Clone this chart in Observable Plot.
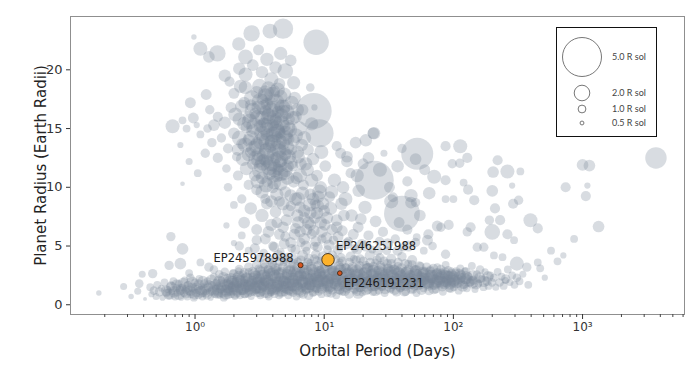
<!DOCTYPE html>
<html><head><meta charset="utf-8">
<script src="https://cdn.jsdelivr.net/npm/d3@7"></script>
<script src="https://cdn.jsdelivr.net/npm/@observablehq/plot@0.6"></script>
<style>
body{margin:0;background:#fff;}
#wrap{position:relative;width:699px;height:390px;overflow:hidden;}
#legend{position:absolute;left:556px;top:27px;width:101px;height:110px;box-sizing:border-box;border:1.5px solid #111;background:#fff;}
</style></head><body><div id="wrap"></div>
<script>
// [period (days), planet radius (Earth radii), stellar radius (R sol)]
const subNeptunes = [
[0.45,1.5,1],[0.46,0.9,.8],[0.48,1.2,1.1],[0.5,0.7,.9],[0.51,1.7,1],[0.53,1.1,1.2],[0.55,1.4,.9],[0.56,0.6,.8],[0.58,1.9,1],[0.6,1.0,1.1],[0.61,1.3,.9],[0.63,0.8,1],[0.65,1.6,1.2],[0.66,1.1,.8],[0.68,2.0,1],[0.7,0.7,1],[0.72,1.4,1.1],[0.73,1.0,.9],[0.75,1.8,1],[0.77,1.2,1.2],[0.78,0.6,.8],[0.8,1.5,1],
[0.82,1.0,1],[0.83,2.1,.9],[0.85,1.3,1.1],[0.87,0.7,1],[0.88,1.7,1],[0.9,1.1,.9],[0.92,2.3,1.1],[0.93,0.9,1],[0.95,1.5,1.2],[0.97,1.2,.8],[0.98,0.6,1],[1.0,1.9,1],[1.02,1.0,1.1],[1.04,1.4,.9],[1.06,0.8,1],[1.08,2.2,1],[1.1,1.2,1.2],[1.12,1.6,.9],[1.14,0.7,1],[1.16,1.0,1],[1.18,1.8,1.1],[1.2,1.3,1],[1.22,0.9,.9],[1.25,2.0,1],[1.27,1.5,1.2],[1.3,1.1,1],[1.32,0.6,.8],[1.35,1.7,1],[1.37,1.2,1.1],[1.4,2.4,1],[1.42,0.9,1],[1.45,1.4,.9],[1.47,1.9,1],[1.5,1.0,1.2],
[1.52,1.6,1],[1.54,2.6,1.1],[1.56,0.8,.9],[1.58,1.3,1],[1.6,2.1,1],[1.63,1.0,1.2],[1.65,1.8,.9],[1.67,0.6,1],[1.7,2.8,1.1],[1.72,1.4,1],[1.75,1.1,.9],[1.77,2.3,1],[1.8,0.8,1],[1.82,1.7,1.2],[1.85,1.2,1],[1.88,2.0,.9],[1.9,0.9,1],[1.93,1.5,1.1],[1.96,2.7,1],[1.98,1.1,1],[2.0,1.9,1.2],[2.03,0.7,.9],[2.06,1.4,1],[2.09,2.4,1],[2.12,1.0,1.1],[2.15,1.7,1],[2.18,2.9,.9],[2.2,1.3,1],[2.23,0.8,1],[2.26,2.1,1.2],[2.3,1.5,1],[2.33,1.1,.9],[2.36,2.6,1],[2.4,1.8,1.1],[2.43,0.9,1],[2.46,1.3,1],[2.5,2.2,.9],[2.53,1.6,1],[2.57,1.0,1.2],[2.6,2.8,1],[2.64,1.2,1],[2.68,1.9,1.1],[2.72,0.7,.9],[2.76,1.5,1],[2.8,2.4,1],[2.84,1.1,1.1],[2.88,1.7,1],[2.92,2.0,.9],[2.96,1.3,1],
[3.0,2.6,1],[3.03,1.0,1.1],[3.06,1.8,.9],[3.1,3.1,1],[3.13,1.3,1],[3.17,2.2,1.2],[3.2,0.8,1],[3.24,1.6,.9],[3.28,2.9,1],[3.31,1.1,1.1],[3.35,2.0,1],[3.39,1.4,1],[3.43,3.3,.9],[3.47,0.9,1],[3.51,1.9,1.2],[3.55,2.5,1],[3.59,1.2,1],[3.63,1.7,.9],[3.67,3.0,1.1],[3.72,0.7,1],[3.76,2.3,1],[3.8,1.5,1.2],[3.85,1.0,.9],[3.89,2.8,1],[3.94,1.9,1],[3.98,1.3,1.1],[4.03,3.4,1],[4.08,2.1,.9],[4.12,0.9,1],[4.17,1.6,1],[4.22,2.6,1.2],[4.27,1.2,1],[4.32,2.0,.9],[4.37,3.2,1],[4.42,1.5,1.1],[4.47,0.8,1],[4.53,2.4,1],[4.58,1.8,.9],[4.64,1.1,1.2],[4.69,2.9,1],[4.75,1.4,1],[4.8,2.2,1.1],[4.86,3.6,1],[4.92,1.0,.9],[4.98,1.7,1],[5.04,2.5,1],[5.1,1.3,1.2],[5.16,3.1,1],[5.22,2.0,.9],[5.28,0.8,1],[5.35,1.6,1.1],[5.41,2.7,1],[5.48,1.2,1],[5.54,2.2,.9],[5.61,3.4,1],[5.68,1.5,1.2],[5.75,1.0,1],[5.82,2.4,1],[5.89,1.9,1.1],[5.96,2.9,.9],[6.03,1.3,1],[6.1,0.7,1],[6.18,2.1,1.2],[6.25,3.7,1],[6.33,1.6,1],[6.4,2.6,.9],[6.48,1.1,1],[6.56,2.0,1.1],[6.64,3.0,1],[6.72,1.4,1],[6.8,2.3,.9],[6.88,0.9,1.2],[6.97,1.8,1],[7.05,3.3,1],[7.14,2.5,1.1],[7.22,1.2,1],[7.31,2.0,.9],[7.4,2.9,1],[7.49,1.6,1],[7.58,0.8,1.2],[7.67,2.3,1],[7.76,3.6,.9],[7.86,1.4,1],[7.95,2.1,1.1],[8.05,2.7,1],[8.15,1.0,1],[8.25,1.8,.9],[8.35,3.2,1.2],[8.45,2.4,1],[8.55,1.3,1],[8.65,2.0,1.1],[8.76,3.8,1],[8.86,1.6,.9],[8.97,2.6,1],[9.08,1.1,1],[9.19,2.2,1.2],[9.3,3.0,1],[9.41,1.8,.9],[9.53,0.9,1],[9.64,2.5,1.1],[9.76,1.5,1],[9.88,3.4,1],[10.0,2.1,1],
[3.05,2.2,1.2],[3.3,1.6,1.1],[3.6,2.6,1.2],[3.9,1.1,1.1],[4.25,2.9,1.2],[4.6,1.5,1.2],[5.0,2.0,1.2],[5.3,1.2,1.1],[5.7,2.7,1.2],[6.2,1.8,1.1],[6.7,2.5,1.2],[7.1,1.5,1.1],[7.7,1.9,1.2],[8.2,2.2,1.1],[8.8,1.4,1.2],[9.5,2.8,1.1],
[10.2,1.4,1],[10.4,2.7,.9],[10.6,1.0,1.1],[10.8,3.3,1],[11.0,1.9,1],[11.2,2.4,1.2],[11.5,1.2,1],[11.7,3.0,.9],[11.9,1.7,1],[12.2,2.2,1.1],[12.4,0.8,1],[12.7,2.8,1],[12.9,1.5,1.2],[13.2,3.6,1],[13.5,2.0,.9],[13.8,1.1,1],[14.1,2.5,1],[14.4,1.8,1.1],[14.7,3.2,1],[15.0,1.3,1],[15.3,2.3,.9],[15.6,0.9,1.2],[15.9,2.9,1],[16.3,1.6,1],[16.6,2.1,1.1],[17.0,3.9,1],[17.3,1.2,.9],[17.7,2.6,1],[18.1,1.9,1],[18.5,3.1,1.2],[18.9,1.4,1],[19.3,2.3,1],[19.7,1.0,.9],[20.1,2.8,1.1],[20.5,1.7,1],[21.0,3.4,1],[21.4,2.1,1],[21.9,1.3,1.2],[22.3,2.6,.9],[22.8,1.8,1],[23.3,3.0,1],[23.8,1.1,1.1],[24.3,2.2,1],[24.8,3.6,1],[25.4,1.6,.9],[25.9,2.5,1.2],[26.5,1.2,1],[27.0,2.0,1],[27.6,3.2,1.1],[28.2,1.5,1],[28.8,2.7,.9],[29.4,1.0,1],[30.0,2.3,1],[30.7,3.5,1.2],[31.3,1.8,1],[32.0,2.9,.9],[32.7,1.3,1],[33.4,2.1,1.1],[34.1,3.1,1],[34.8,1.6,1],[35.6,2.5,.9],[36.3,1.1,1.2],[37.1,3.3,1],[37.9,2.0,1],[38.7,1.4,1.1],[39.5,2.7,1],
[10.3,2.0,1.2],[10.9,1.3,1.1],[11.4,2.9,1.2],[12.0,2.5,1.1],[12.6,1.9,1.2],[13.3,1.2,1.1],[14.0,3.0,1.2],[14.8,2.1,1.1],[15.5,1.6,1.2],[16.4,2.7,1.1],[17.2,2.0,1.2],[18.0,1.1,1.1],[19.0,2.6,1.2],[20.0,2.0,1.1],[21.1,1.5,1.2],[22.1,3.2,1.1],[23.2,2.3,1.2],[24.5,1.5,1.1],[25.7,2.9,1.2],[27.2,2.3,1.1],[28.6,1.9,1.2],[30.3,2.8,1.1],[31.9,2.2,1.2],[33.8,1.7,1.1],[35.9,2.9,1.2],[38.2,2.3,1.1],
[40.5,1.6,1],[41.5,2.9,.9],[42.6,1.1,1.1],[43.6,2.3,1],[44.7,3.5,1],[45.8,1.7,1.2],[47.0,2.6,1],[48.1,1.3,.9],[49.3,3.1,1],[50.6,2.0,1.1],[51.8,1.0,1],[53.1,2.7,1],[54.5,1.8,1.2],[55.8,3.3,1],[57.2,2.2,.9],[58.6,1.4,1],[60.1,2.9,1.1],[61.6,1.9,1],[63.2,2.4,1],[64.8,1.2,1.2],[66.4,3.0,1],[68.0,2.0,.9],[69.7,1.6,1],[71.5,2.6,1.1],[73.3,1.3,1],[75.1,3.2,1],[77.0,2.1,1.2],[78.9,1.7,1],[80.9,2.8,.9],[82.9,1.1,1],[85.0,2.3,1.1],[87.1,3.4,1],[89.3,1.8,1],[91.5,2.5,1.2],[93.8,1.4,1],[96.2,2.9,.9],[98.6,2.0,1],
[42,2.0,1.2],[46,2.3,1.1],[50,1.6,1.2],[55,2.4,1.1],[60,2.1,1.2],[66,1.8,1.1],[72,2.2,1.2],[79,2.5,1.1],[86,1.9,1.2],[94,2.2,1.1],
[101,1.5,1],[104,2.7,1.1],[107,2.0,.9],[110,1.2,1],[113,3.1,1],[116,2.3,1.2],[120,1.7,1],[123,2.9,.9],[127,1.4,1],[131,2.4,1.1],[135,1.9,1],[139,3.3,1],[143,2.1,1.2],[147,1.3,.9],[152,2.6,1],[156,1.8,1],[161,3.0,1.1],[166,2.2,1],[171,1.5,1],[176,2.8,.9],[182,2.0,1.2],[187,1.6,1],[193,2.5,1],[199,1.9,1.1],
[206,2.3,1],[213,1.5,.9],[220,2.8,1],[228,1.9,1.1],[236,2.4,1],[245,1.6,1],[254,2.2,1.2],[264,3.0,1],[274,1.9,.9],[285,2.5,1],[297,1.7,1],[310,2.3,1.1],[325,2.0,1],[345,2.6,.9]
];
const bandCore = [
[0.6,1.2,1.4],[0.63,0.9,1.5],[0.66,1.5,1.4],[0.69,1.1,1.5],[0.72,1.7,1.4],[0.75,0.9,1.5],[0.78,1.3,1.4],[0.81,1.8,1.5],[0.85,1.0,1.4],[0.88,1.5,1.5],[0.92,1.2,1.4],[0.95,1.9,1.5],[0.99,0.9,1.4],[1.03,1.4,1.5],[1.07,1.7,1.4],[1.11,1.1,1.5],[1.15,2.0,1.4],[1.2,1.3,1.5],[1.24,0.9,1.4],[1.29,1.6,1.5],[1.34,2.1,1.4],[1.39,1.2,1.5],[1.44,1.7,1.4],[1.49,1.0,1.5],
[1.54,2.0,1.5],[1.6,1.4,1.4],[1.66,2.3,1.5],[1.72,0.9,1.4],[1.78,1.7,1.5],[1.84,1.2,1.4],[1.9,2.2,1.5],[1.97,1.5,1.4],[2.04,1.0,1.5],[2.11,1.9,1.4],[2.18,2.4,1.5],[2.26,1.3,1.4],[2.34,1.8,1.5],[2.42,1.0,1.4],[2.5,2.3,1.5],[2.59,1.6,1.4],[2.68,1.2,1.5],[2.77,2.0,1.4],[2.87,2.6,1.5],[2.97,1.4,1.4],
[3.07,1.9,1.5],[3.18,1.1,1.4],[3.29,2.5,1.5],[3.4,1.6,1.4],[3.52,2.1,1.5],[3.64,1.0,1.4],[3.77,2.8,1.5],[3.9,1.8,1.4],[4.04,1.3,1.5],[4.18,2.3,1.4],[4.32,1.6,1.5],[4.47,2.7,1.4],[4.63,1.1,1.5],[4.79,2.0,1.4],[4.96,1.5,1.5],[5.13,2.6,1.4],[5.31,1.9,1.5],[5.5,1.2,1.4],[5.69,2.2,1.5],[5.89,2.9,1.4],[6.1,1.6,1.5],[6.31,2.4,1.4],[6.53,1.1,1.5],[6.76,1.9,1.4],[7.0,2.7,1.5],[7.24,1.4,1.4],[7.5,2.2,1.5],[7.76,1.7,1.4],[8.03,3.0,1.5],[8.31,1.2,1.4],[8.6,2.4,1.5],[8.9,1.9,1.4],[9.21,2.8,1.5],[9.54,1.4,1.4],[9.87,2.1,1.5],
[10.2,2.6,1.4],[10.6,1.6,1.5],[10.9,2.2,1.4],[11.3,1.1,1.5],[11.7,2.9,1.4],[12.1,1.8,1.5],[12.5,2.4,1.4],[13.0,1.4,1.5],[13.4,3.1,1.4],[13.9,2.0,1.5],[14.4,1.2,1.4],[14.9,2.6,1.5],[15.4,1.7,1.4],[15.9,2.3,1.5],[16.5,3.0,1.4],[17.1,1.5,1.5],[17.7,2.1,1.4],[18.3,1.0,1.5],[18.9,2.7,1.4],[19.6,1.9,1.5],[20.3,2.4,1.4],[21.0,1.3,1.5],[21.7,3.1,1.4],[22.5,2.0,1.5],[23.3,1.6,1.4],[24.1,2.6,1.5],[24.9,1.2,1.4],[25.8,2.2,1.5],[26.7,2.9,1.4],[27.6,1.7,1.5],[28.6,2.4,1.4],[29.6,1.4,1.5],[30.6,2.0,1.4],[31.7,3.0,1.5],[32.8,1.8,1.4],[33.9,2.5,1.5],[35.1,1.3,1.4],[36.3,2.2,1.5],[37.6,2.8,1.4],[38.9,1.6,1.5],[40.3,2.3,1.4],[41.7,1.2,1.5],[43.1,2.8,1.4],[44.6,1.9,1.5],[46.2,2.5,1.4],[47.8,1.4,1.5],[49.5,2.1,1.4],[51.2,2.9,1.5],[53.0,1.7,1.4],[54.8,2.4,1.5],[56.7,1.3,1.4],[58.7,2.2,1.5],
[60.8,2.7,1.4],[64,1.7,1.5],[67,2.3,1.4],[70.5,1.4,1.5],[74,2.6,1.4],[78,2.0,1.5],[82,1.6,1.4],[86,2.7,1.5],[90.5,2.1,1.4],[95,1.5,1.5],[100,2.4,1.4],[106,1.9,1.5],[112,2.6,1.4],[118,1.6,1.5],[125,2.2,1.4],[133,2.0,1.5],[141,2.5,1.4],[150,1.8,1.5],[160,2.3,1.4],[172,2.0,1.5],[185,2.4,1.4],
[1.8,1.5,1.6],[1.95,1.9,1.7],[2.1,1.3,1.6],[2.3,2.1,1.7],[2.5,1.6,1.6],[2.7,1.9,1.7],[2.9,1.4,1.6],[3.12,2.2,1.7],[3.35,1.7,1.6],[3.6,2.0,1.7],[3.85,1.4,1.6],[4.12,2.4,1.7],[4.4,1.9,1.6],[4.7,1.5,1.7],[5.03,2.3,1.6],[5.38,1.7,1.7],[5.75,2.0,1.6],[6.15,1.4,1.7],[6.57,2.5,1.6],[7.02,1.8,1.7],[7.5,1.5,1.6],[8.0,2.2,1.7],[8.55,1.6,1.6],[9.15,2.5,1.7],[9.8,1.8,1.6],[10.5,2.0,1.7],[11.2,1.6,1.6],[12.0,2.3,1.7],[12.8,1.7,1.6],[13.7,2.4,1.7],[14.6,1.6,1.6],[15.6,2.1,1.7],[16.7,1.8,1.6],[17.8,2.5,1.7],[19.0,1.6,1.6],[20.3,2.2,1.7],[21.7,1.9,1.6],[23.2,2.5,1.7],[24.8,1.7,1.6],[26.5,2.3,1.7],[28.3,1.8,1.6],[30.2,2.5,1.7],[32.3,1.6,1.6],[34.5,2.2,1.7],[36.9,1.9,1.6],[39.4,2.4,1.7],[42.1,1.7,1.6],[45,2.2,1.7],[48.1,1.9,1.6],[51.4,2.5,1.7],[55,1.8,1.6],[58.8,2.2,1.7],[62.8,1.9,1.6],[67.1,2.4,1.7],[71.7,1.8,1.6],[76.6,2.2,1.7],[81.9,1.9,1.6],[87.5,2.4,1.7],[93.5,1.8,1.6],[100,2.1,1.7],[110,2.0,1.6],[125,2.3,1.7],[140,1.9,1.6],
[1.5,1.3,1.6],[1.62,1.7,1.7],[1.75,1.2,1.6],[1.88,1.9,1.8],[2.02,1.5,1.7],[2.18,2.0,1.8],[2.35,1.4,1.7],[2.52,2.1,1.8],[2.72,1.6,1.7],[2.92,2.3,1.8],[3.15,1.5,1.7],[3.4,2.4,1.8],[3.65,1.8,1.7],[3.95,2.6,1.8],[4.25,1.6,1.7],[4.6,2.5,1.8],[4.95,1.9,1.7],[5.35,2.7,1.8],[5.75,1.7,1.7],[6.2,2.6,1.8],[6.7,2.0,1.7],[7.2,2.8,1.8],[7.8,1.8,1.7],[8.4,2.6,1.8],[9.05,2.0,1.7],[9.75,2.8,1.8],[10.5,1.9,1.7],[11.3,2.6,1.8],[12.2,2.1,1.7],[13.2,2.8,1.8],[14.2,1.9,1.7],[15.3,2.6,1.8],[16.5,2.1,1.7],[17.8,2.8,1.8],[19.2,1.9,1.7],[20.7,2.6,1.8],[22.3,2.1,1.7],[24.0,2.8,1.8],[25.9,1.9,1.7],[27.9,2.6,1.8],[30.1,2.1,1.7],[32.4,2.7,1.8],[34.9,1.9,1.7],[37.6,2.6,1.8],[40.5,2.0,1.7],[43.7,2.6,1.8],[47.1,1.9,1.7],[50.7,2.5,1.8],[54.7,2.0,1.7],[58.9,2.5,1.8],[63.5,1.9,1.7],[68.4,2.4,1.8],[73.7,2.0,1.7],[79.5,2.4,1.8],[85.7,1.9,1.7],[92.3,2.3,1.8],[99.5,2.0,1.7],[110,2.3,1.6],[120,1.9,1.7]
];
const bandUpper = [
[2.0,2.6,1.3],[2.2,3.0,1.2],[2.4,2.7,1.3],[2.6,3.2,1.2],[2.8,2.8,1.3],[3.0,3.4,1.2],[3.2,2.9,1.3],[3.45,3.5,1.2],[3.7,3.0,1.3],[3.95,3.6,1.2],[4.2,3.1,1.3],[4.5,3.7,1.2],[4.8,3.2,1.3],[5.1,3.8,1.2],[5.45,3.0,1.3],[5.8,3.5,1.2],[6.2,3.2,1.3],[6.6,3.8,1.2],[7.0,3.0,1.3],[7.45,3.6,1.2],[7.9,3.2,1.3],[8.4,3.9,1.2],[8.95,3.3,1.3],[9.5,3.7,1.2],[10.1,3.1,1.3],[10.8,3.6,1.2],[11.5,3.2,1.3],[12.2,3.9,1.2],[13.0,3.3,1.3],[13.8,3.7,1.2],[14.7,3.1,1.3],[15.6,3.6,1.2],[16.6,3.2,1.3],[17.7,3.8,1.2],[18.8,3.3,1.3],[20.0,3.7,1.2],[21.3,3.1,1.3],[22.7,3.6,1.2],[24.1,3.2,1.3],[25.7,3.8,1.2],[27.3,3.3,1.3],[29,3.7,1.2],[31,3.1,1.3],[33,3.5,1.2],[35,3.0,1.3],[37.3,3.6,1.2],[39.7,3.1,1.3],[42.3,3.5,1.2],[45,3.0,1.3],[48,3.4,1.2],[51,2.9,1.3],[54.5,3.3,1.2],[58,2.8,1.3],[62,3.2,1.2],[66,2.8,1.3],[70,3.1,1.2],[75,2.7,1.3],[80,3.0,1.2],[85,2.6,1.3],[91,2.9,1.2],[97,2.6,1.3],[105,2.8,1.2],[115,2.5,1.3],[125,2.8,1.2]
];
const warmPlanets = [
[2.2,5.0,1.2],[2.6,4.6,1],[3.0,5.5,1.3],[3.4,4.4,1.1],[3.7,6.2,1.5],[4.0,5.0,1.2],[4.3,7.0,1.4],[4.6,4.5,1],[5.0,5.8,1.3],[5.3,8.0,1.6],[5.6,4.8,1.1],[6.0,6.5,1.4],[6.3,9.0,1.8],[6.6,5.3,1.2],[7.0,7.4,1.5],[7.3,4.6,1],[7.7,8.5,1.7],[8.0,6.0,1.3],[8.4,5.0,1.1],[8.8,7.8,1.6],[9.2,9.6,1.9],[9.6,5.6,1.2],[10.1,6.8,1.5],[10.6,4.7,1.1],[11.2,8.2,1.7],[11.8,5.5,1.2],[12.5,7.2,1.5],[13.1,4.9,1],[13.8,6.3,1.4],[14.6,9.0,1.8],[15.4,5.4,1.2],[16.3,7.6,1.6],[17.2,4.8,1.1],[18.3,6.6,1.4],[19.5,5.2,1.2],[20.7,8.3,1.7],[22,5.9,1.3],[23.5,4.7,1],[25,7.1,1.5],[26.8,5.4,1.2],[28.5,6.2,1.3],[30.5,4.6,1.1],[33,8.8,1.8],[35.5,5.6,1.2],[38,7.0,1.4],[41,4.9,1.1],[44,6.4,1.3],[47,9.3,1.7],[51,5.3,1.2],[55,7.6,1.5],[59,4.6,1],[64,6.0,1.3],[69,5.0,1.1],[75,6.7,1.4],[87,4.3,1.2],
[3.2,4.0,1.3],[3.8,3.8,1.2],[4.4,4.2,1.4],[5.2,4.0,1.3],[5.8,3.9,1.2],[6.8,4.2,1.4],[7.6,3.9,1.3],[8.6,4.3,1.2],[9.8,4.1,1.4],[11.5,4.2,1.3],[13.5,4.0,1.2],[16,4.1,1.3],[19,3.9,1.2],[22.5,4.2,1.3],[27,4.0,1.2],[33,3.9,1.3],[40,4.1,1.2],[48,3.8,1.3],
[4.8,6.6,1.5],[5.5,5.3,1.4],[6.2,7.6,1.6],[7.0,5.6,1.5],[7.8,6.8,1.5],[8.6,5.4,1.4],[9.4,7.0,1.6],[10.4,5.7,1.5],[11.5,6.4,1.4],[6.5,8.3,1.5],[8.2,9.0,1.6],[10.0,8.0,1.5],[12.8,5.8,1.4],[14.2,7.6,1.5],[16.8,6.0,1.4],[19.2,7.3,1.5],
[2.4,7.0,1.5],[2.7,8.2,1.6],[3.0,6.4,1.4],[3.3,7.6,1.7],[3.6,8.6,1.5],[3.9,6.8,1.6],[4.2,7.9,1.5],[4.5,6.0,1.4],[4.8,8.6,1.7],[5.1,7.2,1.5],[5.5,9.3,1.6],[5.9,6.0,1.5],[6.3,7.0,1.6],[6.8,9.5,1.7],[7.3,6.4,1.5],[7.8,7.8,1.6],[8.3,6.3,1.5],[8.9,8.4,1.7],[9.6,6.2,1.5],[10.5,7.4,1.6],[11.4,9.6,1.7],[12.5,6.6,1.5],[13.6,8.6,1.6],[2.9,4.8,1.3],[3.5,5.6,1.4],[4.1,4.9,1.3],[4.9,5.2,1.4],[6.0,4.7,1.3],[7.2,5.0,1.4],[8.9,4.9,1.3],[10.9,5.1,1.4],[12.8,4.7,1.3],[15,5.2,1.4],[18,4.7,1.3],[21,5.0,1.4],[26,4.6,1.3],[31,5.2,1.4],[37,4.6,1.3],[45,5.0,1.4],
[6.0,9.0,1.7],[7.0,8.0,1.6],[8.0,10.6,1.7],[9.0,9.2,1.6],[7.5,7.0,1.6],[8.5,7.4,1.5],[9.8,8.6,1.6],[6.5,6.2,1.5],
[0.18,1.0,0.7],[0.28,1.55,0.9],[0.32,0.7,0.7],[0.37,1.8,1.1],[0.36,1.15,0.9],[0.39,2.6,0.9],[0.47,2.65,1.2],[0.41,0.5,0.5],[0.65,5.8,1.2],[0.8,4.75,1.5],[0.77,3.5,1.5],[0.63,3.35,1.2],[1.75,6.75,0.8],[2.3,5.9,1.0],[2.0,5.25,0.8],[1.28,3.2,1.2],[1.4,3.0,1.1],[0.9,2.7,1.0],[1.1,3.6,1.0]
];
const hotJupiters = [
[3.0,18.1,1.6],[3.5,17.8,1.9],[4.1,18.2,1.5],[4.6,17.7,1.8],[3.3,17.5,1.4],
[2.7,17.0,1.5],[3.1,16.8,1.8],[3.6,17.1,1.6],[4.0,16.7,2.0],[4.5,17.0,1.5],[5.0,16.9,1.7],[3.8,17.4,1.3],
[2.6,16.0,1.6],[2.9,16.3,1.4],[3.3,15.9,1.9],[3.7,16.2,1.7],[4.2,15.8,1.5],[4.7,16.1,1.8],[5.3,15.8,1.6],[3.5,16.5,1.5],[4.4,16.4,1.6],
[2.5,15.1,1.5],[2.8,14.8,1.7],[3.2,15.2,1.6],[3.6,14.9,2.0],[4.0,15.3,1.5],[4.4,14.8,1.8],[4.9,15.2,1.6],[5.4,14.9,1.9],[3.4,15.5,1.4],[4.2,15.6,1.7],
[2.6,14.0,1.6],[3.0,13.8,1.5],[3.4,14.2,1.9],[3.9,13.9,1.7],[4.3,14.3,1.5],[4.8,13.8,1.8],[5.3,14.1,1.5],[3.6,14.5,1.6],[4.6,14.6,1.4],
[2.7,13.0,1.5],[3.1,12.8,1.8],[3.5,13.2,1.6],[4.0,12.9,1.5],[4.5,13.1,1.9],[5.0,12.8,1.6],[5.6,13.2,1.4],[3.8,13.5,1.7],[4.2,12.5,1.5],
[2.8,12.0,1.5],[3.2,11.8,1.7],[3.6,12.2,1.6],[4.1,11.9,1.8],[4.6,12.2,1.5],[5.2,11.8,1.6],[3.4,12.4,1.4],[4.4,11.5,1.5],
[2.9,11.0,1.5],[3.3,10.8,1.6],[3.8,11.2,1.7],[4.3,10.9,1.5],[4.9,11.1,1.6],[3.6,10.5,1.4],
[2.8,16.5,2.1],[3.2,17.3,2.2],[3.7,16.0,2.0],[4.2,17.2,2.3],[4.8,16.3,2.1],[2.9,15.2,2.2],[3.3,14.6,2.0],[3.8,15.4,2.3],[4.3,14.7,2.1],[4.9,14.2,2.2],[3.0,13.5,2.0],[3.5,12.6,2.3],[4.0,13.8,2.1],[4.5,12.4,2.2],[5.1,13.4,2.0],[3.2,11.4,2.1],[3.9,12.1,2.2],[4.6,11.2,2.0],[3.4,16.8,1.9],[4.1,15.9,2.0],[3.6,13.9,2.2],[4.4,13.3,2.1],[3.1,12.3,1.9],[5.2,15.1,2.0],[2.7,14.2,1.9],[3.7,18.4,1.9],[4.9,17.9,1.8],[2.6,12.8,1.8],[5.5,12.1,1.8],[4.1,10.4,1.8],
[2.75,17.6,2.0],[3.15,18.6,1.9],[3.55,18.0,2.1],[3.95,17.9,2.0],[4.35,18.3,1.9],[4.75,16.8,2.0],[5.15,16.4,1.9],[2.65,15.6,2.0],[3.05,15.9,2.1],[3.45,15.2,2.2],[3.85,16.6,2.0],[4.25,15.0,2.1],[4.65,15.5,2.0],[5.05,14.6,1.9],[2.85,13.3,2.0],[3.25,13.9,2.1],[3.65,13.1,2.2],[4.05,14.5,2.0],[4.45,13.9,2.1],[4.85,12.9,2.0],[5.3,12.6,1.9],[2.95,12.5,1.9],[3.35,12.1,2.0],[3.75,11.7,2.1],[4.15,11.5,2.0],[4.55,11.9,1.9],[5.0,11.5,1.9],[3.05,10.5,1.8],[3.55,10.2,1.9],[4.05,11.0,1.8],[4.6,10.3,1.8],[5.2,10.8,1.8],[3.3,9.6,1.7],[4.3,9.4,1.7],[3.9,8.8,1.6],
[2.05,16.2,1.8],[2.2,14.2,1.9],[2.3,16.9,1.7],[2.35,12.4,1.8],[2.45,13.6,1.9],[2.5,11.6,1.7],[2.15,13.2,1.6],[2.4,15.4,1.8],[2.25,18.6,1.7],
[5.7,15.9,1.8],[6.0,14.4,1.9],[6.3,12.6,1.7],[5.9,17.6,1.6],[6.5,11.0,1.8],[6.2,16.6,1.7],[5.8,10.5,1.6],[7.2,12.0,1.7],[6.7,13.6,1.6],
[1.3,16.6,1.2],[1.4,15.3,1.5],[1.5,16.0,1.3],[1.6,14.2,1.2],[1.7,15.5,1.6],[1.8,13.3,1.3],[1.9,16.8,1.4],[2.0,14.6,1.5],[2.1,12.6,1.2],[2.2,15.8,1.7],[2.3,13.7,1.4],[2.4,17.2,1.5],[1.5,12.5,1.3],[1.75,11.6,1.1],[2.15,11.0,1.3],[1.35,13.8,1.2],[1.25,15.0,1.1],[2.45,18.5,1.7],[2.0,18.0,1.4],[1.85,19.0,1.3],
[1.7,19.5,1.6],[2.46,19.6,1.8],[3.3,19.8,1.6],[3.6,20.9,1.7],[5.0,19.9,2.0],[7.8,18.5,1.1],[1.49,21.4,2.1],[1.28,21.1,1.5],[1.1,21.8,1.8],[0.98,22.8,0.7],[2.18,22.2,1.7],[2.74,23.1,2.1],[3.8,23.3,1.9],[4.8,23.5,2.6],[4.6,21.4,1.7],[2.46,21.1,1.9],[2.8,20.4,1.5],[3.1,21.7,1.4],[4.2,20.2,1.6],[5.5,20.8,1.5],[2.2,20.1,1.6],[3.9,19.2,1.8],[4.5,18.8,1.5],[5.8,18.9,1.7],
[1.22,17.9,1.4],[0.92,17.2,1.4],[0.97,15.9,1.4],[0.67,15.2,1.8],[0.8,15.7,1.0],[0.86,15.0,1.0],[1.03,15.3,0.8],[0.77,13.6,0.8],[1.1,14.5,1.0],[1.2,12.9,1.2],[0.9,12.2,0.9],[1.05,11.2,1.0],[0.8,10.3,0.6],
[5.6,17.2,1.8],[6.0,16.0,1.6],[6.4,15.0,1.9],[6.8,16.6,1.5],[5.8,14.0,1.6],[6.2,13.0,1.7],[6.6,12.0,1.5],[7.0,14.2,1.8],[7.5,13.2,1.5],[8.0,15.4,1.7],[5.7,11.8,1.4],[6.1,10.8,1.6],[6.9,10.2,1.4],[7.4,11.5,1.7],[8.2,12.4,1.6],[8.8,11.0,1.5],[9.5,13.0,1.8],[7.8,9.4,1.5],[8.5,8.6,1.4],[9.4,10.0,1.6],[10.2,11.8,1.5],[11,9.2,1.4],[12,10.6,1.7],[13.4,12.9,1.4],[15,12.6,1.5],[14,10.0,1.6],[16,11.2,1.3],[17.5,13.8,1.5],[21,14.0,1.6],[24,14.6,1.5],[18.5,9.7,1.6],[20,12.0,1.4],
[3.0,9.8,1.4],[3.5,9.0,1.3],[4.0,10.0,1.5],[4.5,8.8,1.4],[5.0,9.6,1.5],[2.6,10.2,1.3],[2.3,9.0,1.2],[5.5,8.4,1.3],[1.8,10.0,1.1],[2.0,8.5,1.0],
[8.3,16.5,4.6],[9.2,14.6,3.6],[8.66,22.35,3.25],[8.4,16.8,0.8]
];
const warmGiants = [
[29,12.9,0.9],[40,13.3,1.2],[87,13.5,1.3],[113,13.5,1.8],[220,12.3,1.3],[128,12.5,1.3],[98,12.0,1.2],[112,12.05,1.2],[71,10.9,1.8],[87,10.6,1.3],[120,10.4,1.0],[203,11.3,1.5],[262,11.35,1.8],[330,11.35,1.0],[285,10.15,0.8],[200,9.7,1.5],[145,8.9,1.3],[130,9.8,1.3],[87,9.0,1.0],[100,9.0,1.0],[47,8.7,1.5],[51,8.7,1.2],[34,9.15,1.3],[136,6.6,1.3],[128,6.2,1.2],[200,6.2,2.0],[262,6.0,1.3],[295,5.5,1.0],[395,7.2,1.8],[450,6.5,1.3],[310,3.5,1.8],[370,3.2,1.2],[80,6.6,1.2],[92,6.8,1.3],[63,5.5,1.4],[52,5.75,1.0],[153,4.9,1.2],[172,4.9,1.2],[206,4.2,1.0],[240,4.05,1.0],[253,2.07,0.9],[210,8.2,1.3],[290,8.6,1.3],[320,8.9,1.2],[230,7.2,1.3],[190,7.2,1.2],
[15,12.2,1.5],[18,11.0,1.7],[22,12.5,1.5],[27,11.5,1.8],[32,10.0,1.4],[37,11.8,1.6],[44,10.5,1.3],[60,11.5,1.4],[65,9.5,1.6],[12.5,13.5,1.3],[24.3,14.6,1.6],
[24.4,10.6,5.0],[40,7.75,4.6],[52.5,12.85,4.1],[51,12.4,1.5]
];
const longPeriod = [
[1000,11.9,1.5],[1130,11.85,1.5],[740,10.0,1.3],[1090,10.15,0.8],[1060,9.25,1.3],[1330,6.66,1.5],[860,5.6,1.0],[570,4.6,1.0],[710,4.2,0.8],[640,3.7,1.0],[450,3.6,1.0],[470,3.1,1.0],[510,2.3,0.8],[380,1.7,1.0],[3700,12.5,2.75]
];
const targetNames = ["EP246251988","EP245978988","EP246191231"];
const targetPeriod = [10.7, 6.56, 13.2];
const targetRadius = [3.83, 3.37, 2.69];
const targetStar = [1.6, 0.65, 0.6];
const legendSizes = [5.0, 2.0, 1.0, 0.5];
const legendLabels = ["5.0 R sol","2.0 R sol","1.0 R sol","0.5 R sol"];
const xMajor = [1, 10, 100, 1000];
const xMajorLabels = ["10\u2070","10\u00b9","10\u00b2","10\u00b3"];
const yTicks = [0, 5, 10, 15, 20];

const planets = [...subNeptunes, ...bandCore, ...bandUpper, ...warmPlanets, ...hotJupiters, ...warmGiants, ...longPeriod];
const targets = targetNames.map((n, i) => ({name: n, p: targetPeriod[i], r: targetRadius[i], s: targetStar[i]}));
const xMinor = [];
for (const dec of [0.1, 1, 10, 100, 1000]) for (let k = 2; k <= 9; k++) { const v = dec * k; if (v > 0.11 && v < 6100) xMinor.push(v); }
const targetFill = ["#fdb22b", "#d9541e", "#d9541e"];
const font = "DejaVu Sans, sans-serif";

const chart = Plot.plot({
  width: 699, height: 390,
  marginLeft: 70, marginRight: 15, marginTop: 16, marginBottom: 76,
  x: {type: "log", domain: [0.1086, 6155]},
  y: {domain: [-0.83, 24.54]},
  r: {type: "linear", domain: [0, 5], range: [0, 19.5]},
  style: {fontFamily: font, fontSize: "12px", color: "#333", background: "#fff"},
  marks: [
    Plot.dot(planets, {x: d => d[0], y: d => d[1], r: d => d[2], fill: "#778899", fillOpacity: 0.29, stroke: "none"}),
    Plot.dot(targets, {x: "p", y: "r", r: "s", fill: (d, i) => targetFill[i], stroke: "#3a2a1a", strokeWidth: 0.9}),
    Plot.text([targets[0]], {x: "p", y: "r", text: "name", dx: 8, dy: -13, textAnchor: "start", fontSize: 11.5, fill: "#222"}),
    Plot.text([targets[1]], {x: "p", y: "r", text: "name", dx: -7, dy: -7, textAnchor: "end", fontSize: 11.5, fill: "#222"}),
    Plot.text([targets[2]], {x: "p", y: "r", text: "name", dx: 4, dy: 10, textAnchor: "start", fontSize: 11.5, fill: "#222"}),
    Plot.frame({stroke: "#8f8f8f", strokeWidth: 1}),
    Plot.axisX(xMinor, {tickSize: 3, tickFormat: () => "", stroke: "#444", label: null}),
    Plot.axisX(xMajor, {tickSize: 5, tickPadding: 3, tickFormat: (d) => xMajorLabels[xMajor.indexOf(d)], stroke: "#333", fontSize: 12, label: null}),
    Plot.axisY(yTicks, {tickSize: 4, tickPadding: 4, fontSize: 13, stroke: "#333", label: null}),
    Plot.text(["Orbital Period (Days)"], {frameAnchor: "bottom", dy: 41, fontSize: 15, fill: "#222"}),
    Plot.text(["Planet Radius (Earth Radii)"], {frameAnchor: "left", dx: -29, rotate: -90, textAnchor: "middle", fontSize: 15, fill: "#222"})
  ]
});
const wrap = document.getElementById("wrap");
wrap.appendChild(chart);

// size legend using the chart's own r scale
const rs = chart.scale("r");
const rScale = d3.scaleLinear().domain(rs.domain).range(rs.range);
const leg = document.createElement("div");
leg.id = "legend";
const lsvg = d3.select(leg).append("svg").attr("width", 98).attr("height", 107);
const legY = [29, 65, 81, 95];
legendSizes.forEach((v, i) => {
  lsvg.append("circle").attr("cx", 25).attr("cy", legY[i]).attr("r", rScale(v)).attr("fill", "none").attr("stroke", "#777").attr("stroke-width", 1);
  lsvg.append("text").attr("x", 55).attr("y", legY[i]).attr("dy", "0.35em").attr("font-family", "Lato, sans-serif").attr("font-size", 9).attr("fill", "#444").text(legendLabels[i]);
});
wrap.appendChild(leg);
</script>
</body></html>
